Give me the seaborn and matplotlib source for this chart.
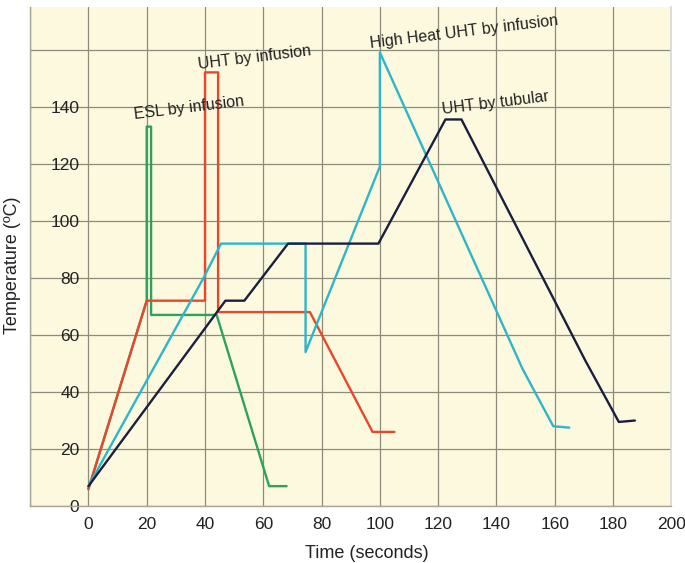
#!/usr/bin/env python3
"""Heat treatment temperature profiles: infusion vs tubular UHT."""

import matplotlib

matplotlib.use("Agg")
import matplotlib.pyplot as plt
import pandas as pd
import seaborn as sns

# time (s) / temperature (ºC)
esl_time = [0, 20, 20, 21.5, 21.5, 44, 62, 68]
esl_temp = [6, 72, 133, 133, 67, 67, 7, 7]

uht_inf_time = [0, 20, 40, 40, 44.5, 44.5, 76, 97.5, 105]
uht_inf_temp = [6, 72, 72, 152, 152, 68, 68, 26, 26]

high_heat_time = [0, 39.5, 45.5, 74.5, 74.5, 100, 100, 149, 159.5, 165]
high_heat_temp = [7, 80, 92, 92, 54, 119, 159, 48, 28, 27.5]

tubular_time = [0, 47, 53.5, 68.5, 99.5, 122.5, 128, 170.5, 182, 187.5]
tubular_temp = [7, 72, 72, 92, 92, 135.5, 135.5, 51, 29.5, 30]

series_names = ["ESL by infusion", "UHT by infusion",
                "High Heat UHT by infusion", "UHT by tubular"]
series_colors = ["#2ba35c", "#e9472b", "#2db6c9", "#1b1f3f"]

x_ticks = [0, 20, 40, 60, 80, 100, 120, 140, 160, 180, 200]
y_ticks = [0, 20, 40, 60, 80, 100, 120, 140]

# label anchor (data coords) for each curve
label_pos = {
    "ESL by infusion": (16, 134.5),
    "UHT by infusion": (38, 152),
    "High Heat UHT by infusion": (97, 159.5),
    "UHT by tubular": (121.5, 136.5),
}


def main() -> None:
    sns.set_theme(style="white")
    plt.rcParams["font.family"] = ["Liberation Sans", "DejaVu Sans"]

    frames = {
        "ESL by infusion": (esl_time, esl_temp),
        "UHT by infusion": (uht_inf_time, uht_inf_temp),
        "High Heat UHT by infusion": (high_heat_time, high_heat_temp),
        "UHT by tubular": (tubular_time, tubular_temp),
    }

    fig = plt.figure(figsize=(6.85, 5.63), dpi=100)
    ax = fig.add_axes([0.044, 0.101, 0.936, 0.887])
    ax.set_facecolor("#fdf9df")

    # draw order: green under red, then cyan, then navy
    for name, color in zip(series_names, series_colors):
        t, temp = frames[name]
        df = pd.DataFrame({"time": t, "temp": temp})
        sns.lineplot(data=df, x="time", y="temp", sort=False, estimator=None,
                     color=color, linewidth=1.7, ax=ax)

    for name, (lx, ly) in label_pos.items():
        ax.text(lx, ly, name, fontsize=11.5, rotation=7, ha="left", va="bottom",
                rotation_mode="anchor", color="#222222")

    ax.set_xlim(-20, 200)
    ax.set_ylim(0, 175)
    ax.set_xticks(x_ticks)
    ax.set_yticks(y_ticks)
    ax.set_yticks([160], minor=True)
    ax.set_xticks([-20], minor=True)
    ax.grid(True, which="both", color="#8d8b7a", linewidth=0.9)
    ax.set_axisbelow(True)

    ax.tick_params(axis="both", length=0, labelsize=12.5, colors="#222222")
    ax.tick_params(axis="y", pad=-35.5)
    ax.tick_params(axis="x", pad=8)

    for side in ("left", "bottom"):
        ax.spines[side].set_color("#a8a594")
        ax.spines[side].set_linewidth(1.0)
    ax.spines["right"].set_color("#d8d8d8")
    ax.spines["top"].set_visible(False)

    ax.set_xlabel("Time (seconds)", fontsize=13, color="#222222")
    ax.set_ylabel("Temperature (ºC)", fontsize=13, color="#222222")
    ax.xaxis.set_label_coords(0.525, -0.078)
    ax.yaxis.set_label_coords(-0.014, 0.483)

    fig.savefig("out.png", dpi=100)
    plt.close(fig)


if __name__ == "__main__":
    main()
